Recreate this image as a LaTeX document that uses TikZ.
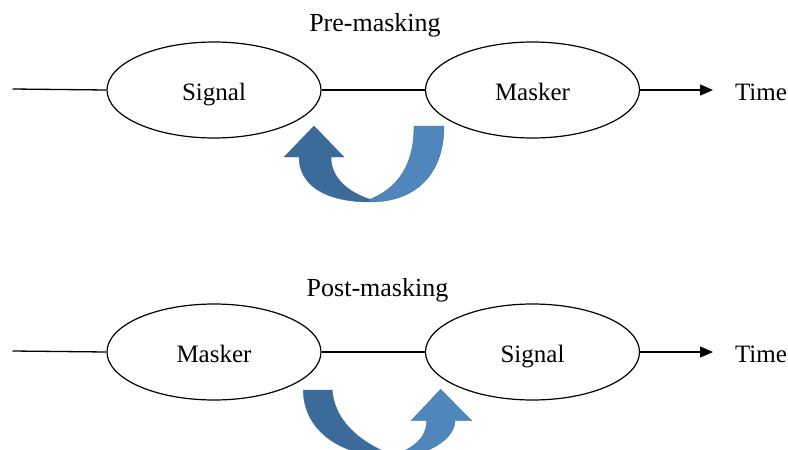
\documentclass[tikz,border=0pt]{standalone}
\usepackage{fontspec}
\setmainfont{Liberation Serif}
\usetikzlibrary{shapes.geometric,arrows.meta}
\definecolor{darkblue}{RGB}{60,106,153}
\definecolor{lightblue}{RGB}{79,135,188}
\definecolor{edgeblue}{RGB}{70,115,160}
\begin{document}
\begin{tikzpicture}[x=1pt,y=-1pt,
  oval/.style={ellipse,draw,line width=1.2pt,minimum width=214pt,minimum height=96pt,inner sep=0pt,
    font=\fontsize{25}{30}\selectfont,text height=20pt,text depth=0pt},
  lab/.style={inner sep=0pt,font=\fontsize{25}{30}\selectfont,anchor=base},
  title/.style={inner sep=0pt,font=\fontsize{26}{31}\selectfont,anchor=base},
  conn/.style={line width=1.3pt},
  timearrow/.style={conn,-{Triangle[length=13pt,width=11pt]}},
  bandlight/.style={fill=lightblue,draw=edgeblue,line width=0.4pt},
  banddark/.style={fill=darkblue,draw=edgeblue,line width=0.4pt}]
\path[use as bounding box] (0,0) rectangle (788,450);
\clip (0,0) rectangle (788,450);

% ---------- Pre-masking ----------
\node[title] (pre) at (375,31.7) {Pre-masking};
\coordinate (s1) at (12.5,89);
\node[oval] (sig1) at (214,90) {Signal};
\node[oval] (mas1) at (532.5,90) {Masker};
\coordinate (t1) at (713,90);
\node[lab] (time1) at (761,100) {Time};
\draw[conn] (s1) -- (sig1.west);
\draw[conn] (sig1.east) -- (mas1.west);
\draw[timearrow] (mas1.east) -- (t1);

% curved backward arrow
\path[bandlight] (414,126) -- (444,126) .. controls (444,175) and (415,202) .. (370,202)
  -- (370,199.3) .. controls (398,188) and (414,165) .. (414,126) -- cycle;
\path[banddark] (370,202) .. controls (325,202) and (299,185) .. (299,157)
  -- (284,157) -- (314,126) -- (344,157) -- (331,157)
  .. controls (331,178) and (348,192) .. (370,199.3) -- cycle;

% ---------- Post-masking ----------
\node[title] (post) at (377.5,296) {Post-masking};
\coordinate (s2) at (12.5,351);
\node[oval] (mas2) at (214,352) {Masker};
\node[oval] (sig2) at (532.5,352) {Signal};
\coordinate (t2) at (713,352);
\node[lab] (time2) at (761,362) {Time};
\draw[conn] (s2) -- (mas2.west);
\draw[conn] (mas2.east) -- (sig2.west);
\draw[timearrow] (sig2.east) -- (t2);

% curved forward arrow
\path[banddark] (303.3,390) -- (332.3,390) .. controls (334,420) and (360,443) .. (393,455)
  -- (393,457) .. controls (340,457) and (303.3,430) .. (303.3,390) -- cycle;
\path[bandlight] (393,457) .. controls (425,457) and (455,440) .. (455,420.7)
  -- (471.7,420.7) -- (440.7,389.3) -- (411,420.7) -- (426.7,420.7)
  .. controls (426.7,438) and (413,449) .. (393,455) -- cycle;
\end{tikzpicture}
\end{document}
